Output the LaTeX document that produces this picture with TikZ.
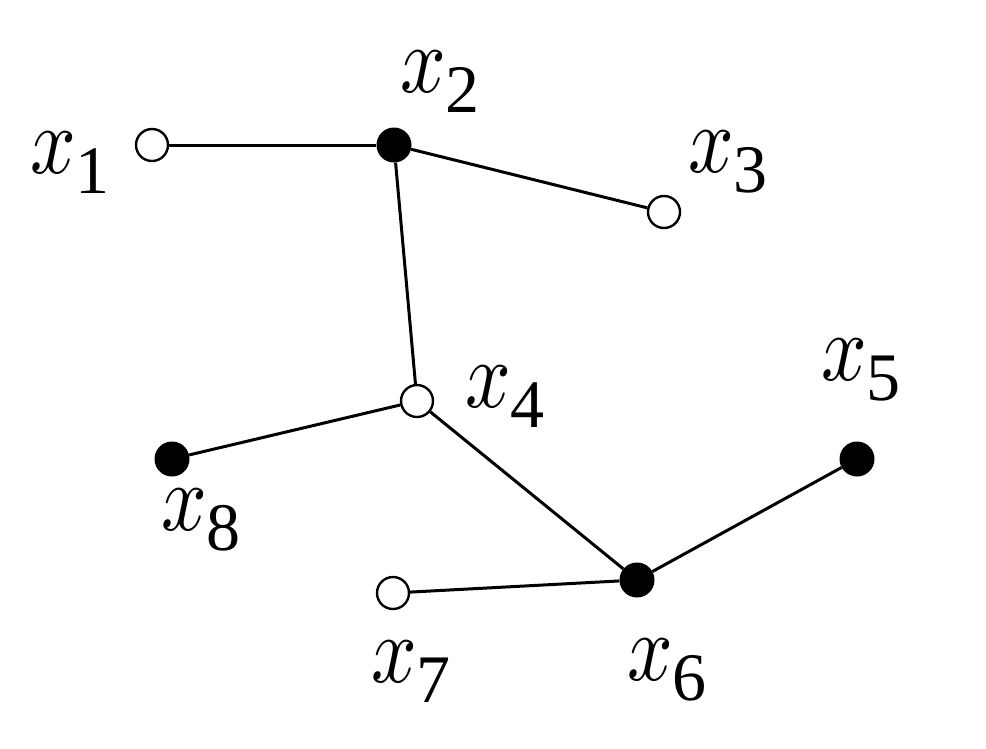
\documentclass[tikz,border=0pt]{standalone}
\usepackage{fontspec}
\setmainfont{Liberation Serif}
\newcommand\lx[1]{\scalebox{8}[9.6]{\fontsize{10}{12}\selectfont$x$}\raisebox{-20pt}{\fontsize{68}{68}\selectfont #1}}
\begin{document}
\begin{tikzpicture}[x=1pt,y=-1pt,
  opendot/.style={circle,draw=black,fill=white,line width=2.4pt,minimum size=32pt,inner sep=0pt},
  fulldot/.style={circle,fill=black,minimum size=35pt,inner sep=0pt},
  edge/.style={line width=3pt},
  lbl/.style={anchor=base west,inner sep=0pt,font=\fontsize{94}{94}\selectfont}]
\useasboundingbox (0,0) rectangle (986,748);
\node[opendot] (n1) at (152,145) {};
\node[fulldot] (n2) at (394,145) {};
\node[opendot] (n3) at (664,212) {};
\node[opendot] (n4) at (417,401) {};
\node[fulldot] (n5) at (857,459) {};
\node[fulldot] (n6) at (637,580) {};
\node[opendot] (n7) at (393,593) {};
\node[fulldot] (n8) at (172,459) {};
\draw[edge] (n1) -- (n2);
\draw[edge] (n2) -- (n3);
\draw[edge] (n2) -- (n4);
\draw[edge] (n4) -- (n8);
\draw[edge] (n4) -- (n6);
\draw[edge] (n6) -- (n5);
\draw[edge] (n6) -- (n7);
\node[lbl] (l1) at (30,173) {\lx{1}};
\node[lbl] (l2) at (400,92) {\lx{2}};
\node[lbl] (l3) at (688,172) {\lx{3}};
\node[lbl] (l4) at (465,407) {\lx{4}};
\node[lbl] (l5) at (821,380) {\lx{5}};
\node[lbl] (l6) at (627,680) {\lx{6}};
\node[lbl] (l7) at (371,682) {\lx{7}};
\node[lbl] (l8) at (161,530) {\lx{8}};
\end{tikzpicture}
\end{document}
